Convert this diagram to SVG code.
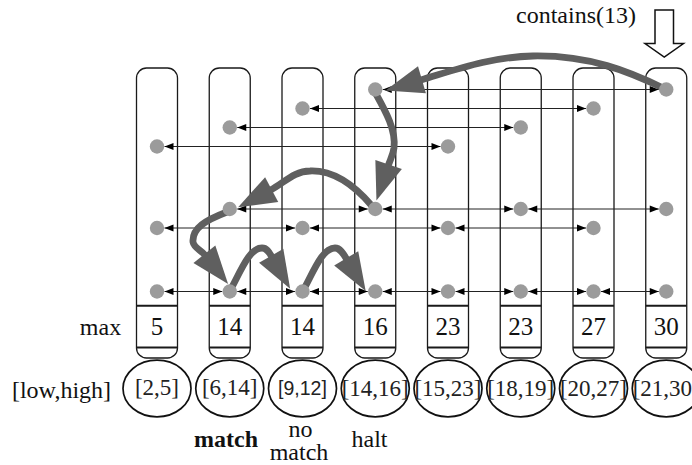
<svg xmlns="http://www.w3.org/2000/svg" width="692" height="465" viewBox="0 0 692 465">
  <style>
    .col { fill: none; stroke: #1a1a1a; stroke-width: 1.3; }
    .cell { stroke: #1a1a1a; stroke-width: 2; }
    .oval { fill: none; stroke: #111; stroke-width: 1.7; }
    .lbl { font-family: "Liberation Serif", "Times New Roman", serif; font-size: 24px; fill: #111; }
    .num { font-family: "Liberation Serif", "Times New Roman", serif; font-size: 25px; fill: #111; text-anchor: middle; }
    .rng { font-family: "Liberation Serif", "Times New Roman", serif; font-size: 23px; fill: #222; text-anchor: middle; }
    .rng-s { font-family: "Liberation Sans", Arial, sans-serif; font-size: 19.5px; fill: #222; text-anchor: middle; }
    .link { stroke: #222; stroke-width: 1; fill: none; marker-start: url(#tip); marker-end: url(#tip); }
    .path { stroke: #5f5f5f; stroke-width: 6.8; fill: none; stroke-linecap: round; marker-end: url(#bighead); }
    .dot { fill: #9b9b9b; }
  </style>
  <defs>
    <marker id="tip" markerUnits="userSpaceOnUse" markerWidth="9" markerHeight="7" refX="9" refY="3.5" orient="auto-start-reverse" overflow="visible">
      <path d="M0,0 L9,3.5 L0,7 z" fill="#000"/>
    </marker>
    <marker id="bighead" markerUnits="userSpaceOnUse" markerWidth="38" markerHeight="28" refX="1" refY="14" orient="auto" overflow="visible">
      <path d="M0,0 L38,14 L0,28 z" fill="#5f5f5f"/>
    </marker>
  </defs>

  <rect width="692" height="465" fill="#fff"/>

  <!-- row labels -->
  <text class="lbl" x="100.5" y="335" text-anchor="middle">max</text>
  <text class="lbl" x="61.5" y="398" text-anchor="middle">[low,high]</text>

  <!-- query -->
  <g id="query">
    <text class="lbl" x="576" y="23" text-anchor="middle">contains(13)</text>
    <polygon points="655,10 673.5,10 673.5,43.5 683.5,43.5 664.25,57 645,43.5 655,43.5" fill="#fff" stroke="#111" stroke-width="1.5"/>
  </g>

  <!-- interval nodes: tower, max cell, interval -->
  <g id="node1">
    <rect class="col" x="136.5" y="68" width="41" height="290" rx="10"/>
    <line class="cell" x1="136.5" y1="305.7" x2="177.5" y2="305.7"/>
    <line class="cell" x1="136.5" y1="347.5" x2="177.5" y2="347.5"/>
    <text class="num" x="157" y="335">5</text>
    <ellipse class="oval" cx="157" cy="388.5" rx="34" ry="28.3"/>
    <text class="rng" x="157" y="395" font-size="21.5">[2,5]</text>
  </g>
  <g id="node2">
    <rect class="col" x="209.25" y="68" width="41" height="290" rx="10"/>
    <line class="cell" x1="209.25" y1="305.7" x2="250.25" y2="305.7"/>
    <line class="cell" x1="209.25" y1="347.5" x2="250.25" y2="347.5"/>
    <text class="num" x="229.75" y="335">14</text>
    <ellipse class="oval" cx="229.75" cy="388.5" rx="34" ry="28.3"/>
    <text class="rng" x="229.75" y="395" font-size="21.5">[6,14]</text>
  </g>
  <g id="node3">
    <rect class="col" x="282" y="68" width="41" height="290" rx="10"/>
    <line class="cell" x1="282" y1="305.7" x2="323" y2="305.7"/>
    <line class="cell" x1="282" y1="347.5" x2="323" y2="347.5"/>
    <text class="num" x="302.5" y="335">14</text>
    <ellipse class="oval" cx="302.5" cy="388.5" rx="34" ry="28.3"/>
    <text class="rng-s" x="302.5" y="395">[9,12]</text>
  </g>
  <g id="node4">
    <rect class="col" x="354.75" y="68" width="41" height="290" rx="10"/>
    <line class="cell" x1="354.75" y1="305.7" x2="395.75" y2="305.7"/>
    <line class="cell" x1="354.75" y1="347.5" x2="395.75" y2="347.5"/>
    <text class="num" x="375.25" y="335">16</text>
    <ellipse class="oval" cx="375.25" cy="388.5" rx="34" ry="28.3"/>
    <text class="rng" x="375.25" y="395.5">[14,16]</text>
  </g>
  <g id="node5">
    <rect class="col" x="427.5" y="68" width="41" height="290" rx="10"/>
    <line class="cell" x1="427.5" y1="305.7" x2="468.5" y2="305.7"/>
    <line class="cell" x1="427.5" y1="347.5" x2="468.5" y2="347.5"/>
    <text class="num" x="448" y="335">23</text>
    <ellipse class="oval" cx="448" cy="388.5" rx="34" ry="28.3"/>
    <text class="rng" x="448" y="395.5">[15,23]</text>
  </g>
  <g id="node6">
    <rect class="col" x="500.25" y="68" width="41" height="290" rx="10"/>
    <line class="cell" x1="500.25" y1="305.7" x2="541.25" y2="305.7"/>
    <line class="cell" x1="500.25" y1="347.5" x2="541.25" y2="347.5"/>
    <text class="num" x="520.75" y="335">23</text>
    <ellipse class="oval" cx="520.75" cy="388.5" rx="34" ry="28.3"/>
    <text class="rng" x="520.75" y="395.5">[18,19]</text>
  </g>
  <g id="node7">
    <rect class="col" x="573" y="68" width="41" height="290" rx="10"/>
    <line class="cell" x1="573" y1="305.7" x2="614" y2="305.7"/>
    <line class="cell" x1="573" y1="347.5" x2="614" y2="347.5"/>
    <text class="num" x="593.5" y="335">27</text>
    <ellipse class="oval" cx="593.5" cy="388.5" rx="34" ry="28.3"/>
    <text class="rng" x="593.5" y="395.5">[20,27]</text>
  </g>
  <g id="node8">
    <rect class="col" x="645.75" y="68" width="41" height="290" rx="10"/>
    <line class="cell" x1="645.75" y1="305.7" x2="686.75" y2="305.7"/>
    <line class="cell" x1="645.75" y1="347.5" x2="686.75" y2="347.5"/>
    <text class="num" x="666.25" y="335">30</text>
    <ellipse class="oval" cx="666.25" cy="388.5" rx="34" ry="28.3"/>
    <text class="rng" x="666.25" y="395.5">[21,30]</text>
  </g>

  <!-- skip-list links, one double-headed arrow per neighbouring pair -->
  <g id="connectors">
    <!-- level 1 -->
    <line class="link" x1="164.5" y1="291.5" x2="222.25" y2="291.5"/>
    <line class="link" x1="237.25" y1="291.5" x2="295" y2="291.5"/>
    <line class="link" x1="310" y1="291.5" x2="367.75" y2="291.5"/>
    <line class="link" x1="382.75" y1="291.5" x2="440.5" y2="291.5"/>
    <line class="link" x1="455.5" y1="291.5" x2="513.25" y2="291.5"/>
    <line class="link" x1="528.25" y1="291.5" x2="586" y2="291.5"/>
    <line class="link" x1="601" y1="291.5" x2="658.75" y2="291.5"/>
    <!-- level 2 -->
    <line class="link" x1="164.5" y1="228" x2="295" y2="228"/>
    <line class="link" x1="310" y1="228" x2="440.5" y2="228"/>
    <line class="link" x1="455.5" y1="228" x2="586" y2="228"/>
    <!-- level 3 -->
    <line class="link" x1="237.25" y1="209" x2="367.75" y2="209"/>
    <line class="link" x1="382.75" y1="209" x2="513.25" y2="209"/>
    <line class="link" x1="528.25" y1="209" x2="658.75" y2="209"/>
    <!-- levels 4..7 -->
    <line class="link" x1="164.5" y1="146.5" x2="440.5" y2="146.5"/>
    <line class="link" x1="237.25" y1="127.5" x2="513.25" y2="127.5"/>
    <line class="link" x1="310" y1="108.5" x2="586" y2="108.5"/>
    <line class="link" x1="382.75" y1="89.5" x2="658.75" y2="89.5"/>

    <!-- search path for contains(13) -->
    <path class="path" d="M663,88 C630,72 590,55 533,56 C490,57 455,70 421,80"/>
    <path class="path" d="M376,94 C386,112 396,130 394,148 C393,155 390.5,159 388.3,165.5"/>
    <path class="path" d="M372,206 C355,186 335,170 310,171 C294,171 284,183 270.8,190"/>
    <path class="path" d="M227,212 C206,220 192,228 193,242 C194,248 201,250 205,255"/>
    <path class="path" d="M232,287 C242,268 250,248 262,248 C267,248 269,252 271.7,256.7"/>
    <path class="path" d="M305,287 C315,268 323,248 335,248 C340,248 343,253 346.7,259.2"/>
  </g>

  <!-- tower levels -->
  <g id="levels">
    <circle class="dot" cx="157" cy="146.5" r="7.2"/>
    <circle class="dot" cx="157" cy="228" r="7.2"/>
    <circle class="dot" cx="157" cy="291.5" r="7.2"/>
    <circle class="dot" cx="229.75" cy="127.5" r="7.2"/>
    <circle class="dot" cx="229.75" cy="209" r="7.2"/>
    <circle class="dot" cx="229.75" cy="291.5" r="7.2"/>
    <circle class="dot" cx="302.5" cy="108.5" r="7.2"/>
    <circle class="dot" cx="302.5" cy="228" r="7.2"/>
    <circle class="dot" cx="302.5" cy="291.5" r="7.2"/>
    <circle class="dot" cx="375.25" cy="89.5" r="7.2"/>
    <circle class="dot" cx="375.25" cy="209" r="7.2"/>
    <circle class="dot" cx="375.25" cy="291.5" r="7.2"/>
    <circle class="dot" cx="448" cy="146.5" r="7.2"/>
    <circle class="dot" cx="448" cy="228" r="7.2"/>
    <circle class="dot" cx="448" cy="291.5" r="7.2"/>
    <circle class="dot" cx="520.75" cy="127.5" r="7.2"/>
    <circle class="dot" cx="520.75" cy="209" r="7.2"/>
    <circle class="dot" cx="520.75" cy="291.5" r="7.2"/>
    <circle class="dot" cx="593.5" cy="108.5" r="7.2"/>
    <circle class="dot" cx="593.5" cy="228" r="7.2"/>
    <circle class="dot" cx="593.5" cy="291.5" r="7.2"/>
    <circle class="dot" cx="666.25" cy="89.5" r="7.2"/>
    <circle class="dot" cx="666.25" cy="209" r="7.2"/>
    <circle class="dot" cx="666.25" cy="291.5" r="7.2"/>
  </g>

  <!-- outcome notes -->
  <text class="lbl" x="226" y="447" text-anchor="middle" font-weight="bold">match</text>
  <text class="lbl" x="300.5" y="436.5" text-anchor="middle">no</text>
  <text class="lbl" x="299" y="460" text-anchor="middle">match</text>
  <text class="lbl" x="369.5" y="447" text-anchor="middle">halt</text>
</svg>
